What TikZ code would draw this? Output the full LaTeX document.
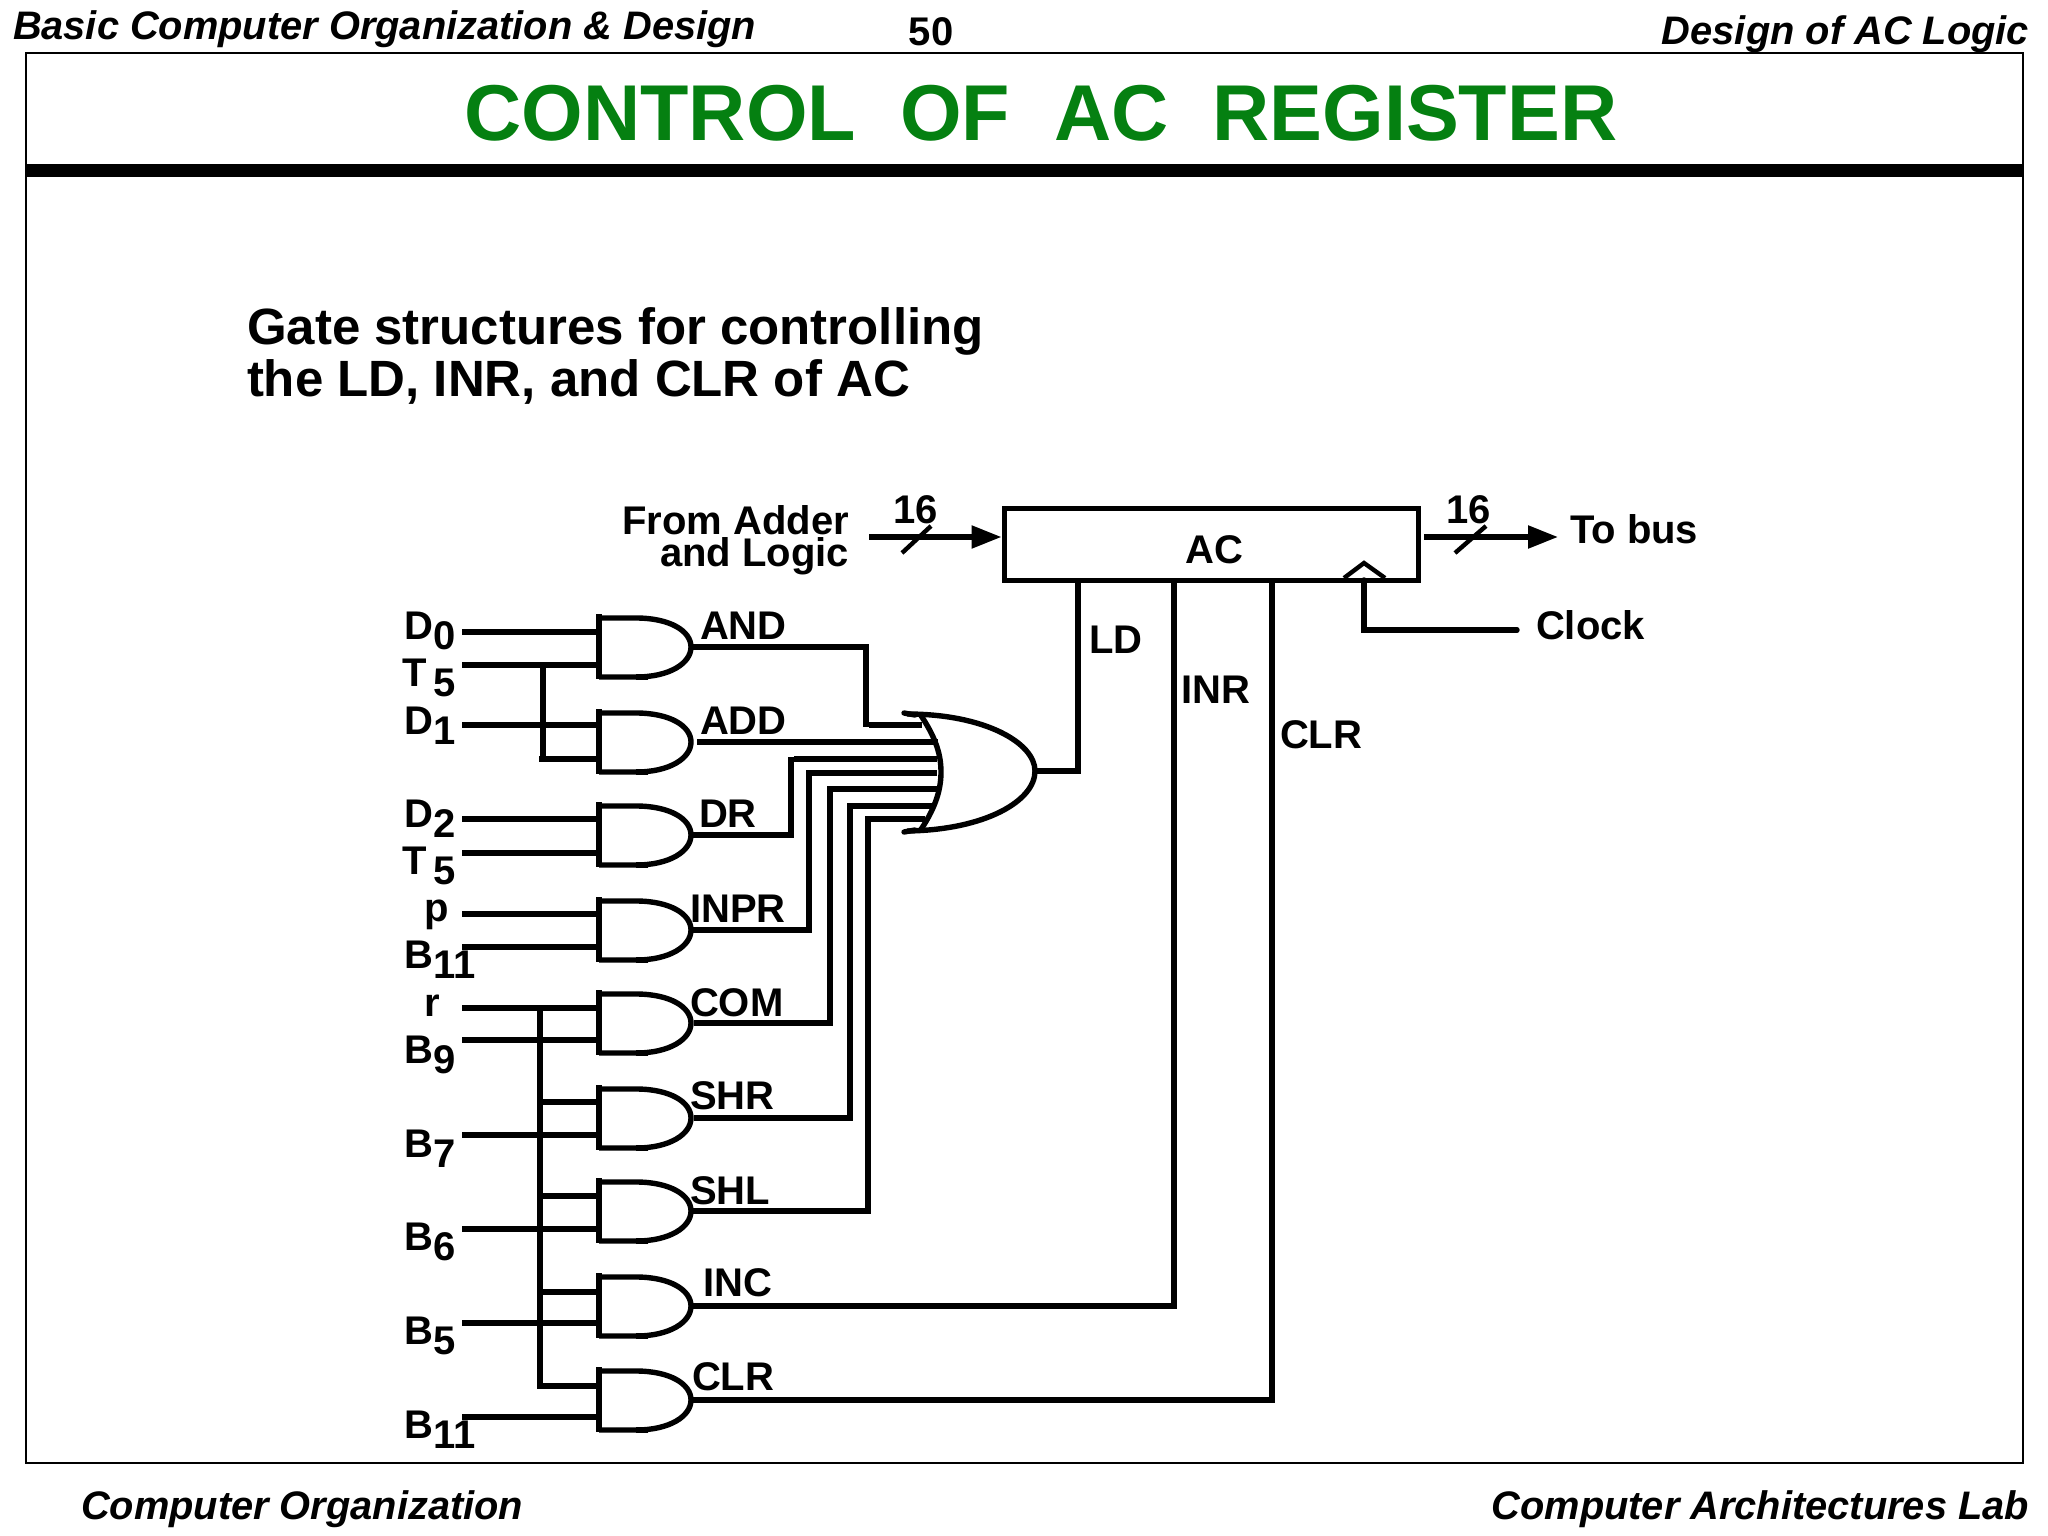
\documentclass[tikz,border=0pt]{standalone}
\usepackage{fontspec}
\setmainfont{Liberation Sans}
\usetikzlibrary{arrows.meta}
\definecolor{titlegreen}{RGB}{5,128,17}
\tikzset{
  wire/.style={line width=5.4pt,line join=miter},
  arrowwire/.style={wire,-{Triangle[length=30pt,width=22pt]}},
  framebox/.style={line width=2pt},
  lbl/.style={font=\fontsize{40}{44}\selectfont\bfseries,anchor=base west,inner sep=0pt,outer sep=0pt,yshift=-1pt},
  hdr/.style={font=\fontsize{39.8}{44}\selectfont\bfseries\itshape,inner sep=0pt,outer sep=0pt},
  sub/.style={font=\fontsize{51}{52}\selectfont\bfseries,inner sep=0pt,outer sep=0pt,align=left},
  regbox/.style={draw,line width=5pt,minimum width=414pt,minimum height=72pt,inner sep=0pt,outer sep=2.5pt},
}
% \andgate{name}{centre y}
\newcommand\andgate[2]{%
  \begin{scope}[shift={(0,#2)}]
    \coordinate (#1) at (599,0);
    \coordinate (#1o) at (691,0);
    \draw[wire] (599,-33) -- (599,32);
    \draw[wire] (599,-29) -- (636,-29) .. controls (670,-29) and (691,-16) .. (691,0)
      .. controls (691,16) and (670,30) .. (636,30) -- (599,30);
    \draw[wire,line width=6.5pt] (636,30) -- (648,30);
  \end{scope}}
\newcommand\lab[2]{\makebox[29pt][l]{#1}\raisebox{-10.5pt}{#2}}
\begin{document}
\begin{tikzpicture}[x=1pt,y=-1pt]
\useasboundingbox (0,0) rectangle (2048,1536);
\fill[white] (0,0) rectangle (2048,1536);
% frame
\draw[framebox] (26,53) rectangle (2023,1463);
\fill[black] (26,164) rectangle (2023,177);
% headers
\node[hdr,anchor=base west] (hleft) at (13,40) {Basic Computer Organization \& Design};
\node[lbl,anchor=base] (hnum) at (931,45) {50};
\node[hdr,anchor=base east] (hright) at (2029,45) {Design of AC Logic};
\node[hdr,anchor=base west] (fleft) at (81,1519) {Computer Organization};
\node[hdr,anchor=base east] (fright) at (2029,1519) {Computer Architectures Lab};
\node[font=\fontsize{79.2}{88}\selectfont\bfseries,text=titlegreen,anchor=base,inner sep=0pt] (title) at (1041,141) {CONTROL\ \ OF\ \ AC\ \ REGISTER};
\node[sub,anchor=west] (s1) at (247,356) {Gate structures for controlling\\the LD, INR, and CLR of AC};
% register
\node[regbox] (ac) at (1211,544) {};
\node[lbl,anchor=base] (aclab) at (1214,562) {AC};
\node[lbl,anchor=east,align=right,font=\fontsize{40}{32}\selectfont\bfseries] (from) at (849,539) {From Adder\\and Logic};
\node[lbl] (n16a) at (893,522) {16};
\node[lbl] (n16b) at (1446,522) {16};
\node[lbl] (tobus) at (1570,542) {To bus};
\node[lbl] (clock) at (1536,638) {Clock};
\node[lbl] (ldl) at (1089,652) {LD};
\node[lbl] (inrl) at (1181,702) {INR};
\node[lbl] (clrl) at (1280,747) {CLR};
\coordinate (acin) at (869,537);
\coordinate (acout) at (1424,537);
\coordinate (busend) at (1558,537);
\draw[arrowwire] (acin) -- (acin -| ac.west);
\draw[arrowwire] (acout) -- (busend);
\draw[wire,line width=4.4pt] (902,553) -- (931,526);
\draw[wire,line width=4.4pt] (1455,553) -- (1486,526);
% clock
\coordinate (clkx) at (1364,580);
\coordinate (clkend) at (1517,630);
\draw[wire,line width=4.4pt] (1344,578) -- (1364,563) -- (1385,578);
\draw[wire,line cap=round] (clkx) |- (clkend);
% AND gates
\andgate{g1}{647}\andgate{g2}{742}\andgate{g3}{835}\andgate{g4}{930}\andgate{g5}{1023}
\andgate{g6}{1118}\andgate{g7}{1211}\andgate{g8}{1306}\andgate{g9}{1400}
% input labels
\node[lbl] (ld0) at (404,638) {\lab{D}{0}};
\node[lbl] (lt5) at (402,685) {\makebox[31pt][l]{T}\raisebox{-10.5pt}{5}};
\node[lbl] (ld1) at (404,733) {\lab{D}{1}};
\node[lbl] (ld2) at (404,826) {\lab{D}{2}};
\node[lbl] (lt5b) at (402,873) {\makebox[31pt][l]{T}\raisebox{-10.5pt}{5}};
\node[lbl] (lp) at (424,920) {p};
\node[lbl] (lb11) at (404,967) {\lab{B}{11}};
\node[lbl] (lr) at (424,1015) {r};
\node[lbl] (lb9) at (404,1062) {\lab{B}{9}};
\node[lbl] (lb7) at (404,1156) {\lab{B}{7}};
\node[lbl] (lb6) at (404,1249) {\lab{B}{6}};
\node[lbl] (lb5) at (404,1343) {\lab{B}{5}};
\node[lbl] (lb11b) at (404,1437) {\lab{B}{11}};
% output labels
\node[lbl] at (700,638) (oand) {AND};
\node[lbl] at (700,733) (oadd) {ADD};
\node[lbl] at (699,826) (odr) {DR};
\node[lbl] at (690,921) (oinpr) {INPR};
\node[lbl] at (690,1015) (ocom) {COM};
\node[lbl] at (690,1108) (oshr) {SHR};
\node[lbl] at (690,1203) (oshl) {SHL};
\node[lbl] at (703,1295) (oinc) {INC};
\node[lbl] at (692,1389) (oclr) {CLR};
% input wires
\foreach \nm/\yy/\gg in {a/632/g1,b/665/g1,c/725/g2,d/819/g3,e/853/g3,f/914/g4,g/947/g4,h/1008/g5,i/1040/g5,j/1135/g6,k/1229/g7,l/1323/g8,m/1417/g9}{
  \coordinate (in\nm) at (462,\yy);
  \draw[wire] (in\nm) -- (in\nm -| \gg);
}
% shared buses
\coordinate (busa) at (543,665);
\coordinate (busaend) at (539,759);
\draw[wire] (busa) -- (543,761);
\draw[wire] (busaend) -- (busaend -| g2);
\coordinate (busb) at (540,1008);
\coordinate (busbend) at (540,1386);
\draw[wire] (busb) |- (busbend -| g9);
\foreach \yy/\gg in {1102/g6,1196/g7,1292/g8}{
  \coordinate (bt) at (540,\yy);
  \draw[wire] (bt) -- (bt -| \gg);
}
% OR inputs
\draw[wire] (g1o) -- (866,647) -- (866,727);
\draw[wire] (869,725) -- (922,725);
\coordinate (adds) at (697,742);
\draw[wire] (adds) -- (938,742);
\draw[wire] (g3o) -- (791,835) -- (791,757);
\draw[wire] (794,759) -- (937,759);
\draw[wire] (g4o) -- (809,930) -- (809,773) -- (937,773);
\coordinate (coms) at (694,1023);
\draw[wire] (coms) -- (830,1023) -- (830,789) -- (937,789);
\coordinate (shrs) at (694,1118);
\draw[wire] (shrs) -- (850,1118) -- (850,806) -- (932,806);
\draw[wire] (g7o) -- (868,1211) -- (868,819) -- (925,819);
% OR gate
\coordinate (oro) at (1035,771);
\draw[wire] (907,714) .. controls (985,714) and (1035,743) .. (oro)
  .. controls (1035,801) and (985,830) .. (907,831);
\draw[wire,line cap=round] (904,713) -- (915,715);
\draw[wire,line cap=round] (904,832) -- (915,830);
\draw[wire] (920,714) .. controls (934,735) and (941,752) .. (941,772)
  .. controls (941,792) and (934,810) .. (920,831);
% outputs to register
\draw[wire] (oro) -| (1078,0 |- ac.south);
\coordinate (inrx) at (1174,0);
\coordinate (clrx) at (1272,0);
\draw[wire] (g8o) -| (inrx |- ac.south);
\draw[wire] (g9o) -| (clrx |- ac.south);
\end{tikzpicture}
\end{document}
